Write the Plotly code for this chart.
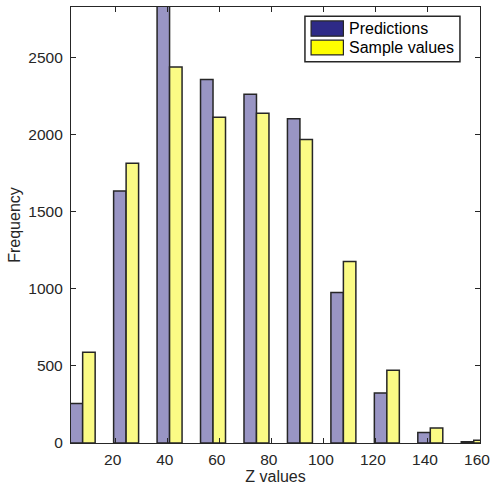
import plotly.graph_objects as go

bin_centers = [7.3, 24.0, 40.7, 57.4, 74.1, 90.8, 107.5, 124.2, 140.9, 157.6]
predictions = [256, 1636, 2900, 2359, 2264, 2104, 977, 325, 68, 8]
sample_values = [589, 1816, 2440, 2115, 2141, 1970, 1178, 472, 97, 18]
x_ticks = [20, 40, 60, 80, 100, 120, 140, 160]
y_ticks = [0, 500, 1000, 1500, 2000, 2500]
series_names = ["Predictions", "Sample values"]

PURPLE_FACE = "#9995C4"
YELLOW_FACE = "#FBFB85"
PURPLE_LEG = "#2E2A87"
YELLOW_LEG = "#FFFF00"
EDGE = "#262626"
BW = 4.8
FONT = "Liberation Sans, Arial, sans-serif"

fig = go.Figure()
fig.add_trace(go.Bar(x=bin_centers, y=predictions, width=BW, offset=-BW,
                     marker=dict(color=PURPLE_FACE, line=dict(color=EDGE, width=1.5)),
                     showlegend=False, name=series_names[0]))
fig.add_trace(go.Bar(x=bin_centers, y=sample_values, width=BW, offset=0,
                     marker=dict(color=YELLOW_FACE, line=dict(color=EDGE, width=1.5)),
                     showlegend=False, name=series_names[1]))

# manual legend box
shapes = [
    dict(type="rect", xref="paper", yref="paper", x0=0.572, x1=0.951, y0=0.8745, y1=0.979,
         fillcolor="white", line=dict(color=EDGE, width=1.5), layer="above"),
    dict(type="rect", xref="paper", yref="paper", x0=0.587, x1=0.666, y0=0.933, y1=0.968,
         fillcolor=PURPLE_LEG, line=dict(color=EDGE, width=1.2), layer="above"),
    dict(type="rect", xref="paper", yref="paper", x0=0.587, x1=0.666, y0=0.890, y1=0.924,
         fillcolor=YELLOW_LEG, line=dict(color=EDGE, width=1.2), layer="above"),
]
annotations = [
    dict(xref="paper", yref="paper", x=0.674, y=0.951, text=series_names[0], showarrow=False,
         xanchor="left", yanchor="middle", font=dict(family=FONT, size=16, color="#000000")),
    dict(xref="paper", yref="paper", x=0.674, y=0.907, text=series_names[1], showarrow=False,
         xanchor="left", yanchor="middle", font=dict(family=FONT, size=16, color="#000000")),
]

axis_common = dict(showline=True, linecolor=EDGE, linewidth=1.3, mirror="ticks",
                   ticks="inside", ticklen=5, tickcolor=EDGE, tickwidth=1.3,
                   showgrid=False, zeroline=False, automargin=False,
                   ticklabeloverflow="allow",
                   tickfont=dict(family=FONT, size=15.5, color="#262626"))

fig.update_layout(
    width=491, height=487,
    margin=dict(l=71, r=11, t=7, b=44),
    paper_bgcolor="white", plot_bgcolor="white",
    barmode="overlay",
    shapes=shapes, annotations=annotations,
    xaxis=dict(range=[2.82, 160], tickvals=x_ticks,
               title=dict(text="Z values", font=dict(family=FONT, size=16, color="#262626"), standoff=4),
               ticklabelstandoff=2, ticklabelshift=-3, **axis_common),
    yaxis=dict(range=[0, 2830], tickvals=y_ticks,
               title=dict(text="Frequency", font=dict(family=FONT, size=16, color="#262626"), standoff=3),
               ticklabelstandoff=4, **axis_common),
)
fig.write_html("out.html")
